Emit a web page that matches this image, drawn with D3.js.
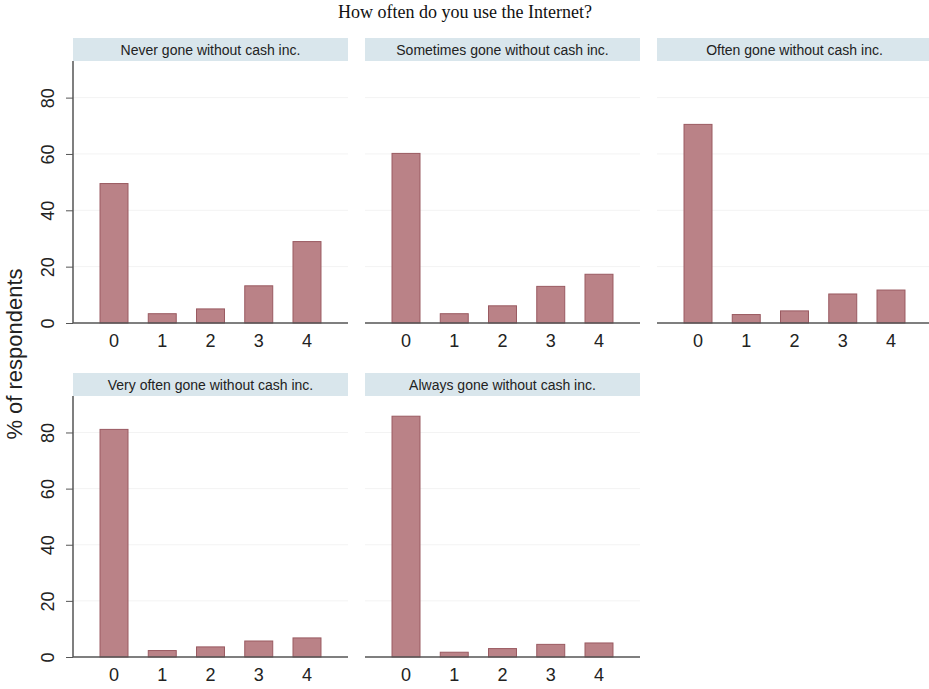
<!DOCTYPE html>
<html>
<head>
<meta charset="utf-8">
<script src="https://cdn.jsdelivr.net/npm/d3@7"></script>
<style>
  body { margin: 0; background: #fff; }
  svg { display: block; font-family: "Liberation Sans", Arial, sans-serif; }
</style>
</head>
<body>
<svg id="chart" width="929" height="689"></svg>
<script>
// data
var categories = ["0", "1", "2", "3", "4"];
var panelTitles = [
  "Never gone without cash inc.",
  "Sometimes gone without cash inc.",
  "Often gone without cash inc.",
  "Very often gone without cash inc.",
  "Always gone without cash inc."
];
var neverVals     = [49.5, 3.3, 5.0, 13.2, 28.9];
var sometimesVals = [60.2, 3.3, 6.1, 13.0, 17.3];
var oftenVals     = [70.5, 3.0, 4.3, 10.3, 11.7];
var veryOftenVals = [81.1, 2.3, 3.6, 5.7, 6.8];
var alwaysVals    = [85.8, 1.7, 3.0, 4.5, 5.0];
var yTicks = [0, 20, 40, 60, 80];

var allVals = [neverVals, sometimesVals, oftenVals, veryOftenVals, alwaysVals];

var svg = d3.select("#chart");

var colX = [73, 365, 657],
    panelW = 275,
    headTop = [38, 373],
    headH = 23,
    baseY = [323, 657];

svg.append("text")
    .attr("x", 465).attr("y", 18)
    .attr("text-anchor", "middle")
    .style("font-family", "'Liberation Serif', 'Times New Roman', serif")
    .style("font-size", "18px")
    .attr("fill", "#111")
    .text("How often do you use the Internet?");

svg.append("text")
    .attr("transform", "translate(22,354) rotate(-90)")
    .attr("text-anchor", "middle")
    .style("font-size", "22px")
    .attr("fill", "#222")
    .text("% of respondents");

allVals.forEach(function(vals, i) {
  var row = Math.floor(i / 3), col = i % 3;
  var x0 = colX[col], top = headTop[row] + headH, base = baseY[row];

  var g = svg.append("g");

  var x = d3.scalePoint().domain(categories)
      .range([x0, x0 + panelW]).padding(0.85);
  var y = d3.scaleLinear().domain([0, 93]).range([base, top]);
  var bw = x.step() * 0.58;

  // header strip
  g.append("rect")
      .attr("x", x0).attr("y", headTop[row])
      .attr("width", panelW).attr("height", headH)
      .attr("fill", "#d9e6ec");
  g.append("text")
      .attr("x", x0 + panelW / 2).attr("y", headTop[row] + 16.5)
      .attr("text-anchor", "middle")
      .style("font-size", "14px")
      .attr("fill", "#222")
      .text(panelTitles[i]);

  // faint grid
  g.selectAll(".grid").data(yTicks.slice(1)).enter().append("line")
      .attr("x1", x0).attr("x2", x0 + panelW)
      .attr("y1", function(d) { return y(d); })
      .attr("y2", function(d) { return y(d); })
      .attr("stroke", "#f3f3f3").attr("stroke-width", 1);

  // bars
  g.selectAll(".bar").data(vals).enter().append("rect")
      .attr("x", function(d, j) { return x(categories[j]) - bw / 2; })
      .attr("y", function(d) { return y(d); })
      .attr("width", bw)
      .attr("height", function(d) { return base - y(d); })
      .attr("fill", "#ba8287")
      .attr("stroke", "#9a5a61").attr("stroke-width", 1);

  // baseline
  g.append("line")
      .attr("x1", x0).attr("x2", x0 + panelW)
      .attr("y1", base).attr("y2", base)
      .attr("stroke", "#555").attr("stroke-width", 1.5);

  // x labels
  g.selectAll(".xl").data(categories).enter().append("text")
      .attr("x", function(d) { return x(d); })
      .attr("y", base + 24)
      .attr("text-anchor", "middle")
      .style("font-size", "18px")
      .attr("fill", "#222")
      .text(function(d) { return d; });

  // y axis only on first column
  if (col === 0) {
    var yAxis = d3.axisLeft(y).tickValues(yTicks).tickSize(7).tickPadding(8);
    var ax = g.append("g").attr("transform", "translate(" + x0 + ",0)").call(yAxis);
    ax.select(".domain").attr("stroke", "#555").attr("stroke-width", 1.5)
      .attr("d", "M0," + top + "V" + base);
    ax.selectAll(".tick line").attr("stroke", "#555");
    ax.selectAll(".tick text")
      .style("font-size", "18px")
      .style("font-family", "'Liberation Sans', Arial, sans-serif")
      .attr("fill", "#222")
      .attr("text-anchor", "middle")
      .attr("transform", "translate(-25,0) rotate(-90)")
      .attr("x", 0).attr("dy", "0.35em");
  }
});
</script>
</body>
</html>
